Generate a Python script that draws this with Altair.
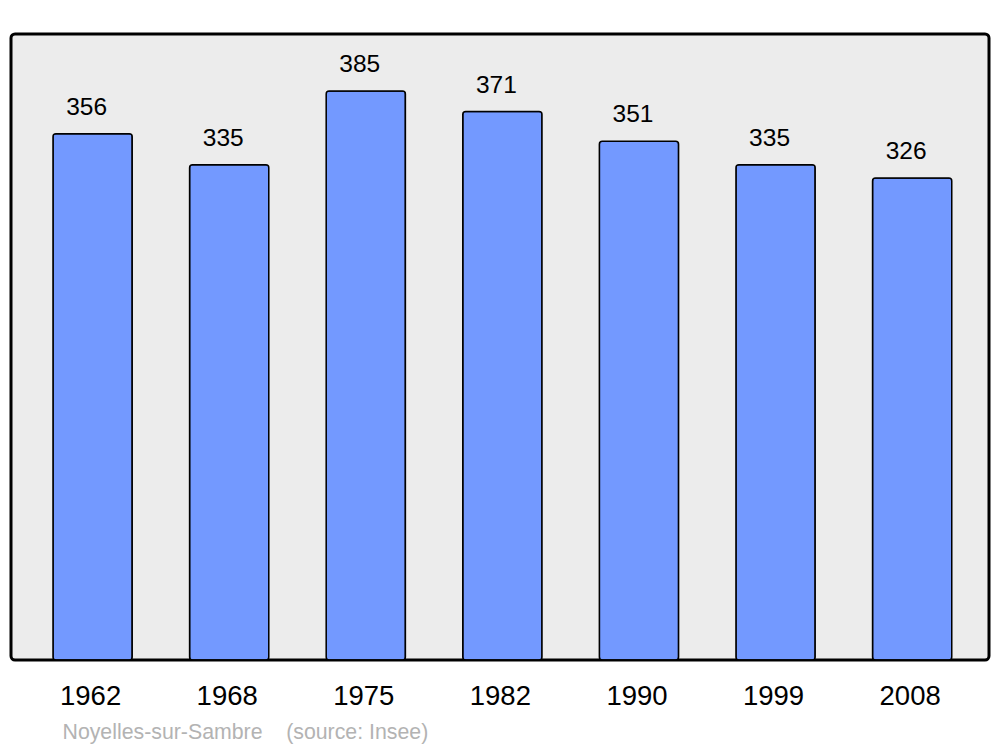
import altair as alt
import pandas as pd

years = ["1962", "1968", "1975", "1982", "1990", "1999", "2008"]
population = [356, 335, 385, 371, 351, 335, 326]

df = pd.DataFrame({"year": years, "pop": population})

FONT = "Liberation Sans"

x = alt.X(
    "year:N",
    sort=years,
    scale=alt.Scale(paddingInner=0.42, paddingOuter=0.29, align=0.53),
    axis=alt.Axis(
        title="Noyelles-sur-Sambre\u00a0\u00a0\u00a0\u00a0(source: Insee)",
        titleFont=FONT,
        titleFontSize=21.3,
        titleFontWeight="normal",
        titleColor="#b3b3b3",
        titleAnchor="start",
        titleAlign="left",
        titleBaseline="alphabetic",
        titleX=51,
        titleY=78,
        labelFont=FONT,
        labelFontSize=27.5,
        labelColor="black",
        labelAngle=0,
        labelBaseline="alphabetic",
        labelPadding=44,
        labelOffset=-2,
        ticks=False,
        tickSize=0,
        domain=False,
        grid=False,
    ),
)
y = alt.Y("pop:Q", scale=alt.Scale(domain=[0, 423.5], nice=False, zero=True), axis=None)

bars = alt.Chart(df).mark_bar(
    fill="#7399ff", stroke="black", strokeWidth=1.5, cornerRadius=3
).encode(x=x, y=y)

labels = alt.Chart(df).mark_text(
    dy=-19, dx=-6, baseline="alphabetic", fontSize=24.5, font=FONT, color="black"
).encode(x=x, y=y, text="pop:Q")

chart = (
    alt.layer(bars, labels)
    .properties(
        width=978,
        height=626,
        autosize=alt.AutoSizeParams(type="none"),
        padding={"left": 3, "top": 26, "right": 3, "bottom": 95},
    )
    .configure_view(fill="#ececec", stroke="black", strokeWidth=3, cornerRadius=4)
)

chart.save("out.html", embed_options={"renderer": "svg", "actions": False})
